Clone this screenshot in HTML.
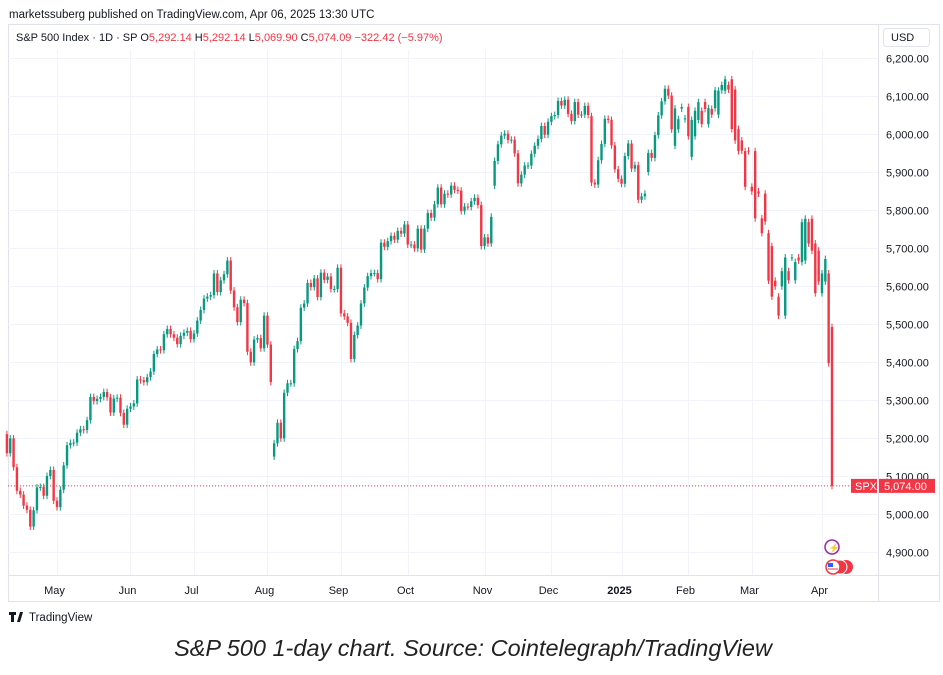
<!DOCTYPE html>
<html><head><meta charset="utf-8"><style>
body{margin:0;background:#fff;width:943px;height:670px;overflow:hidden;font-family:"Liberation Sans",sans-serif}
svg text{font-family:"Liberation Sans",sans-serif}
</style></head><body>
<svg id="c" width="943" height="670" xmlns="http://www.w3.org/2000/svg">
<text x="9" y="18" font-size="11.5" fill="#131722">marketssuberg published on TradingView.com, Apr 06, 2025 13:30 UTC</text>
<rect x="8.5" y="24.5" width="931" height="577" fill="none" stroke="#e0e3eb"/>
<line x1="878.5" y1="24" x2="878.5" y2="601" stroke="#e0e3eb"/>
<line x1="8" y1="575.5" x2="940" y2="575.5" stroke="#e0e3eb"/>
<g id="grid"></g>
<text x="16" y="41" font-size="11" fill="#131722">S&amp;P 500 Index · 1D · SP <tspan>O</tspan><tspan fill="#f23645">5,292.14</tspan> <tspan>H</tspan><tspan fill="#f23645">5,292.14</tspan> <tspan>L</tspan><tspan fill="#f23645">5,069.90</tspan> <tspan>C</tspan><tspan fill="#f23645">5,074.09</tspan> <tspan fill="#f23645"> −322.42 (−5.97%)</tspan></text>
<rect x="883.5" y="28.5" width="46" height="18" rx="3" fill="#fff" stroke="#e0e3eb"/>
<text x="891" y="41" font-size="11" fill="#131722">USD</text>
<g id="candles"></g>
<g id="axis"></g>
<g>
<circle cx="832" cy="547" r="7" fill="#fff" stroke="#9c27b0" stroke-width="1.5"/>
<text x="828.5" y="551" font-size="9" fill="#9c27b0">⚡</text>
<circle cx="846" cy="567" r="7" fill="#f23645"/><circle cx="840" cy="567" r="7" fill="#f23645" stroke="#fff"/>
<circle cx="833" cy="567" r="7" fill="#fff" stroke="#f23645" stroke-width="1.5"/>
<rect x="828" y="563" width="5" height="4" fill="#2962ff"/><line x1="828" y1="569" x2="838" y2="569" stroke="#f23645"/>
</g>
<g>
<path d="M9 612h7v3h-2v7h-3v-7H9z M17 622l3-10h3l-3 10z" fill="#131722"/>
<text x="29" y="621" font-size="11.5" fill="#131722">TradingView</text>
</g>
<text x="473" y="656" font-size="23.5" font-style="italic" text-anchor="middle" fill="#222">S&amp;P 500 1-day chart. Source: Cointelegraph/TradingView</text>
</svg>
<script>
const closes=[5160,5199,5123,5061,5051,5022,5011,4967,5010,5070,5071,5048,5100,5116,5035,
5018,5064,5128,5181,5187,5188,5214,5223,5221,5247,5308,5297,5303,5308,5321,5307,5267,5304,5306,5266,5235,5277,
5283,5291,5354,5352,5347,5360,5375,5421,5433,5431,5473,5487,5473,5464,5447,5469,5477,5482,5460,
5475,5509,5537,5567,5572,5576,5633,5584,5615,5631,5667,5588,5544,5505,5564,5555,5427,5399,5459,5463,5436,5522,
5446,5347,5186,5240,5199,5319,5344,5344,5434,5455,5543,5554,5608,5597,5620,5571,5635,5616,5625,5592,5592,5648,
5528,5520,5503,5408,5471,5496,5554,5596,5626,5634,5634,5618,5714,5703,5718,5732,5722,5745,5738,5762,
5709,5709,5699,5751,5696,5751,5792,5780,5815,5859,5815,5843,5841,5864,5853,5851,5797,5809,5808,5823,5832,5813,5705,
5728,5712,5782,5929,5973,5996,6001,5984,5985,5949,5870,5893,5917,5917,5948,5969,5987,6021,5998,6032,
6047,6050,6087,6075,6090,6053,6034,6084,6051,6051,6074,6050,5872,5867,5931,5974,6040,6037,5970,5907,5882,
5869,5942,5975,5909,5918,5827,5836,5843,5950,5937,5997,6049,6086,6119,6101,6012,6067,6039,6071,6041,
5994,6037,6061,6084,6026,6066,6068,6051,6115,6114,6129,6144,6117,6013,5983,5955,5956,5861,5955,
5849,5778,5843,5739,5770,5614,5572,5599,5522,5639,5675,5615,5675,5663,5667,5768,5777,5712,5693,5581,5612,
5633,5671,5397,5074];
const opens=[5210,5160,5199,5123,5061,5051,5022,5011,4967,5010,5070,5071,5048,5100,5116,
5035,5018,5064,5128,5181,5187,5188,5214,5223,5221,5247,5308,5297,5303,5308,5321,5307,5267,5304,5306,5266,5235,
5277,5283,5291,5354,5352,5347,5360,5375,5421,5433,5431,5473,5487,5473,5464,5447,5469,5477,5482,
5460,5475,5509,5537,5567,5572,5576,5633,5584,5615,5631,5667,5588,5544,5505,5564,5555,5427,5399,5459,5463,5436,
5522,5446,5151,5186,5240,5199,5319,5344,5344,5434,5455,5543,5554,5608,5597,5620,5571,5635,5616,5625,5592,5592,
5648,5528,5520,5503,5408,5471,5496,5554,5596,5626,5634,5634,5618,5714,5703,5718,5732,5722,5745,5738,
5762,5709,5709,5699,5751,5696,5751,5792,5780,5815,5859,5815,5843,5841,5864,5853,5851,5797,5809,5808,5823,5832,5813,
5705,5728,5712,5864,5929,5973,5996,6001,5984,5985,5949,5870,5893,5917,5917,5948,5969,5987,6021,5998,
6032,6047,6050,6087,6075,6090,6053,6034,6084,6051,6051,6074,6047,5872,5867,5931,5974,6040,6037,5970,5907,
5882,5869,5942,5975,5909,5918,5827,5836,5900,5950,5937,5997,6049,6086,6119,6101,5969,6012,6067,6039,6071,
5940,5994,6037,6061,6084,6026,6066,6068,6051,6115,6114,6129,6144,6117,6013,5983,5955,5956,5861,
5955,5849,5778,5843,5739,5705,5614,5572,5599,5522,5639,5675,5615,5675,5663,5667,5768,5777,5712,5693,5581,
5612,5633,5492,5292];
const priceTicks=[4900,5000,5100,5200,5300,5400,5500,5600,5700,5800,5900,6000,6100,6200];
const monthLabels=["May","Jun","Jul","Aug","Sep","Oct","Nov","Dec","2025","Feb","Mar","Apr"];
const monthIdx=[15,37,56,78,100,120,143,163,184,204,223,244];
const NS="http://www.w3.org/2000/svg";
const yOf=p=>58+(6200-p)*0.38;
const x0=6.9, step=(832-x0)/247;
const xOf=i=>x0+i*step;
function mk(t,a,parent){const e=document.createElementNS(NS,t);for(const k in a)e.setAttribute(k,a[k]);parent.appendChild(e);return e;}
const grid=document.getElementById('grid'),axis=document.getElementById('axis'),cg=document.getElementById('candles');
priceTicks.forEach(p=>{
 const y=Math.round(yOf(p))+0.5;
 const l=mk('line',{x1:8,x2:878,y1:y,y2:y,stroke:'#f0f3fa'},grid);
 
 
 const t=mk('text',{x:886,y:y+4,'font-size':11,fill:'#131722'},axis);
 t.textContent=p.toLocaleString('en-US',{minimumFractionDigits:2});
 
 
});
monthLabels.forEach((m,k)=>{
 const x=Math.round(xOf(monthIdx[k]))+0.5;
 const l=mk('line',{x1:x,x2:x,y1:50,y2:575,stroke:'#f0f3fa'},grid);
 
 
 const t=mk('text',{x:x-3,y:594,'font-size':11,fill:'#131722','text-anchor':'middle','font-weight':m==='2025'?'bold':'normal'},axis);
 t.textContent=m;
 
 
});
closes.forEach((c,i)=>{
 const o=opens[i],up=c>=o,col=up?'#089981':'#f23645';
 const x=xOf(i),hi=Math.max(o,c)+9,lo=Math.min(o,c)-9;
 const g=mk('g',{},cg);
 
 
 mk('line',{x1:x,x2:x,y1:yOf(hi),y2:yOf(lo),stroke:col,'stroke-width':1},g);
 const yt=yOf(Math.max(o,c)),yb=yOf(Math.min(o,c));
 mk('rect',{x:x-1.2,y:yt,width:2.4,height:Math.max(1,yb-yt),fill:col},g);
});
const last=closes[closes.length-1],ly=yOf(last);
const dl=mk('line',{x1:8,x2:878,y1:ly,y2:ly,stroke:'#f23645','stroke-dasharray':'1 2'},axis);


const b1=mk('rect',{x:851,y:ly-7,width:26,height:14,fill:'#f23645'},axis);


const t1=mk('text',{x:855,y:ly+4,'font-size':11,fill:'#fff'},axis);t1.textContent='SPX';
const b2=mk('rect',{x:879,y:ly-7,width:56,height:14,fill:'#f23645'},axis);


const t2=mk('text',{x:884,y:ly+4,'font-size':11,fill:'#fff'},axis);t2.textContent=last.toLocaleString('en-US',{minimumFractionDigits:2});
</script>
</body></html>
